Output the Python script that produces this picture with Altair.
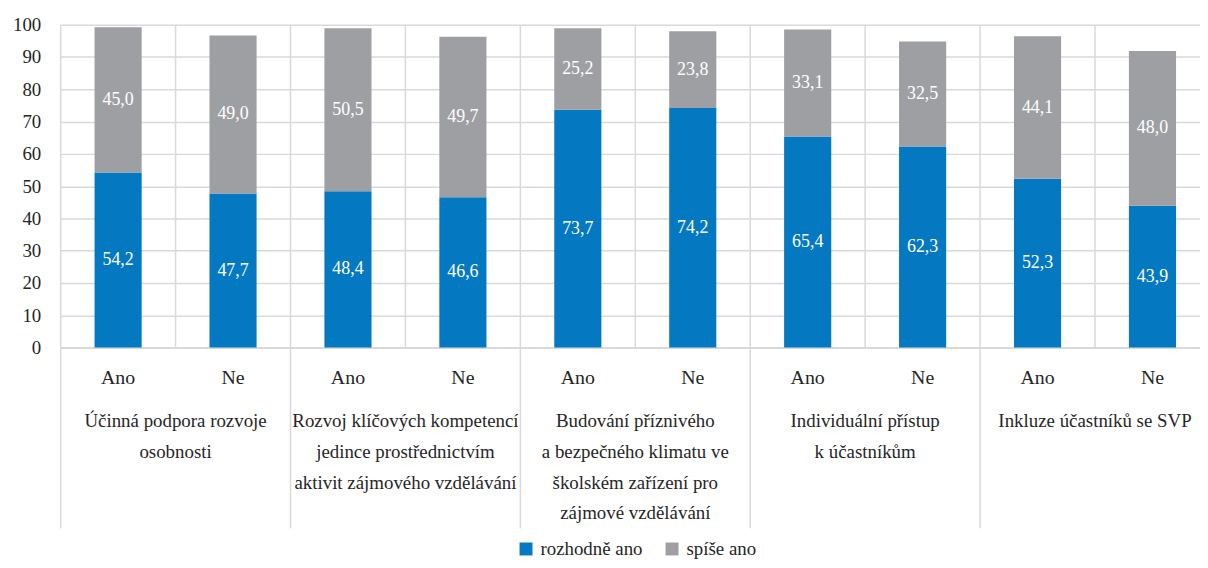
import altair as alt
import pandas as pd

groups = [
    "Účinná podpora rozvoje\nosobnosti",
    "Rozvoj klíčových kompetencí\njedince prostřednictvím\naktivit zájmového vzdělávání",
    "Budování příznivého\na bezpečného klimatu ve\nškolském zařízení pro\nzájmové vzdělávání",
    "Individuální přístup\nk účastníkům",
    "Inkluze účastníků se SVP",
]
subs = ["Ano", "Ne"]
series = ["rozhodně ano", "spíše ano"]
rozhodne = [54.2, 47.7, 48.4, 46.6, 73.7, 74.2, 65.4, 62.3, 52.3, 43.9]
spise = [45.0, 49.0, 50.5, 49.7, 25.2, 23.8, 33.1, 32.5, 44.1, 48.0]
y_ticks = list(range(0, 101, 10))

FONT = "Liberation Sans Narrow"
BLUE = "#0479c1"
GRAY = "#9e9fa3"
GRID = "#d9d9d9"
TXT = "#262626"

keys = [f"{gi}{s}" for gi in range(len(groups)) for s in subs]
rows = []
for i, k in enumerate(keys):
    rows.append({"key": k, "series": series[0], "sidx": 0, "value": rozhodne[i]})
    rows.append({"key": k, "series": series[1], "sidx": 1, "value": spise[i]})
df = pd.DataFrame(rows)
keys_df = pd.DataFrame({"key": keys})
grp_df = pd.DataFrame({"key": [f"{gi}Ano" for gi in range(len(groups))],
                       "mid": [f"{gi}Ne" for gi in range(len(groups))],
                       "label": groups})

H = 325
x_scale = alt.Scale(domain=keys, range=[0, 1157], paddingInner=0, paddingOuter=0)
x_axis = alt.Axis(title=None, labelExpr="substring(datum.label, 1)", labelAngle=0,
                  ticks=False, labelPadding=20, labelFontSize=20, labelColor=TXT,
                  domainColor=GRID, domainWidth=2, grid=False, labelFont=FONT)
y_scale = alt.Scale(domain=[0, 100])
y_axis = alt.Axis(title=None, values=y_ticks, domain=False, ticks=False, labelPadding=20,
                  labelFontSize=19, labelColor=TXT, gridColor=GRID, gridWidth=1.5,
                  labelFont=FONT)

vgrid = alt.Chart(keys_df).mark_rule(color=GRID, strokeWidth=1.5).encode(
    x=alt.X("key:N", scale=x_scale, axis=x_axis, bandPosition=0),
    y=alt.value(0), y2=alt.value(H))

gsep = alt.Chart(grp_df).mark_rule(color=GRID, strokeWidth=1.5).encode(
    x=alt.X("key:N", scale=x_scale, axis=x_axis, bandPosition=0),
    y=alt.value(H), y2=alt.value(H + 182))

bars = alt.Chart(df).mark_bar(width=alt.RelativeBandSize(0.41)).encode(
    x=alt.X("key:N", scale=x_scale, axis=x_axis),
    y=alt.Y("value:Q", stack="zero", scale=y_scale, axis=y_axis),
    color=alt.Color("series:N", scale=alt.Scale(domain=series, range=[BLUE, GRAY]),
                    legend=alt.Legend(orient="none", legendX=459, legendY=518,
                                      direction="horizontal", title=None,
                                      symbolType="square", symbolSize=170,
                                      symbolStrokeWidth=0, labelFontSize=19,
                                      labelColor=TXT, labelFont=FONT, columnPadding=20,
                                      labelOffset=5)),
    order=alt.Order("sidx:Q"),
)

vals = alt.Chart(df).transform_stack(
    stack="value", as_=["v0", "v1"], groupby=["key"], sort=[alt.SortField("sidx")]
).transform_calculate(
    mid="(datum.v0 + datum.v1) / 2",
    lbl="replace(format(datum.value, '.1f'), '.', ',')",
).mark_text(color="white", fontSize=18, font=FONT).encode(
    x=alt.X("key:N", scale=x_scale, axis=x_axis),
    y=alt.Y("mid:Q", scale=y_scale, axis=y_axis),
    text="lbl:N",
)

glabels = alt.Chart(grp_df).mark_text(
    lineBreak="\n", baseline="top", align="center", fontSize=19, lineHeight=31,
    color=TXT, font=FONT
).encode(
    x=alt.X("mid:N", scale=x_scale, axis=x_axis, bandPosition=0),
    y=alt.value(390),
    text="label:N",
)

chart = alt.layer(vgrid, gsep, bars, vals, glabels).properties(
    width=1147, height=H,
    autosize=alt.AutoSizeParams(type="none"),
    padding={"left": 53, "top": 15, "right": 0, "bottom": 212},
).configure(font=FONT).configure_view(stroke=None)

chart.save("out.html", embed_options={"renderer": "svg", "actions": False})
